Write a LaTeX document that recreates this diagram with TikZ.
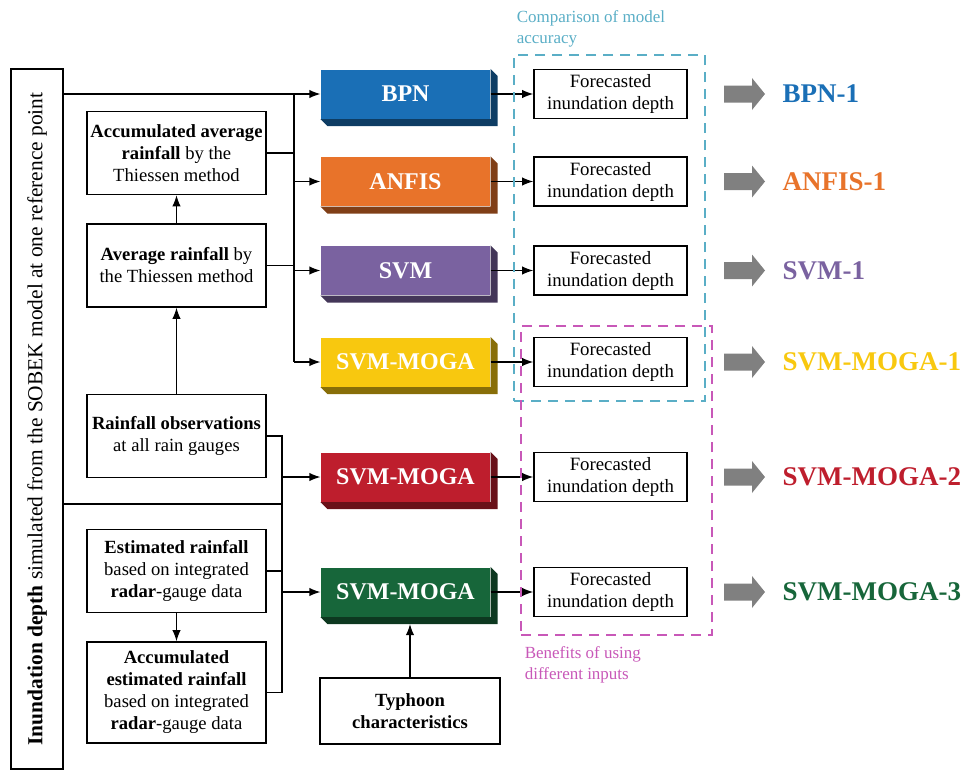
\documentclass[tikz,border=0pt]{standalone}
\usepackage{fontspec}
\setmainfont{Liberation Serif}
\usetikzlibrary{arrows.meta}

\definecolor{cbpn}{HTML}{1A6FB6}
\definecolor{canfis}{HTML}{E8732A}
\definecolor{csvm}{HTML}{7A62A0}
\definecolor{cmogaa}{HTML}{F8C80F}
\definecolor{cmogab}{HTML}{BE1E2D}
\definecolor{cmogac}{HTML}{17663A}
\definecolor{cteal}{HTML}{5AAEC6}
\definecolor{cmag}{HTML}{C858B8}
\definecolor{arrowgray}{HTML}{808080}

\begin{document}
\begin{tikzpicture}[x=0.5pt,y=-0.5pt,line width=0.6pt,
    >={Latex[length=5.5pt,width=4.2pt]},
    inbox/.style={draw,line width=0.8pt,minimum width=89.5pt,minimum height=41.5pt,
      align=center,inner sep=1pt,font=\fontsize{9.3}{11}\selectfont},
    model/.style={minimum width=84.5pt,minimum height=24.5pt,inner sep=0pt,
      text=white,font=\fontsize{12}{14}\selectfont\bfseries},
    fcbox/.style={draw,line width=0.8pt,minimum width=76.5pt,minimum height=24.5pt,
      align=center,inner sep=0pt,font=\fontsize{9.4}{11}\selectfont},
    result/.style={anchor=west,inner sep=0pt,font=\fontsize{13.5}{16}\selectfont\bfseries},
    groupbox/.style={line width=0.8pt,dash pattern=on 5pt off 3.5pt,inner sep=0pt},
    note/.style={align=left,inner sep=0pt,font=\fontsize{8.5}{10.5}\selectfont}]
  \useasboundingbox (0,0) rectangle (965,772);

  % input side
  \node[draw,line width=0.8pt,rotate=90,minimum width=350pt,minimum height=26pt,inner sep=0pt,
    font=\fontsize{10.7}{12}\selectfont] (inun) at (37,419)
    {\textbf{Inundation depth} simulated from the SOBEK model at one reference point};
  \node[inbox] (accavg) at (176.5,153) {\textbf{Accumulated average}\\\textbf{rainfall} by the\\Thiessen method};
  \node[inbox] (avg) at (176.5,265.5) {\textbf{Average rainfall} by\\the Thiessen method};
  \node[inbox] (obs) at (176.5,436) {\textbf{Rainfall observations}\\at all rain gauges};
  \node[inbox] (est) at (176.5,571) {\textbf{Estimated rainfall}\\based on integrated\\\textbf{radar}-gauge data};
  \node[inbox,minimum height=50.5pt] (accest) at (176.5,692.5)
    {\textbf{Accumulated}\\\textbf{estimated rainfall}\\based on integrated\\\textbf{radar}-gauge data};
  \node[inbox,minimum width=90pt,minimum height=33pt] (typh) at (410,711)
    {\textbf{Typhoon}\\\textbf{characteristics}};

  \draw[->] (obs) -- (avg);
  \draw[->] (avg) -- (accavg);
  \draw[->] (est) -- (accest);

  % models, outputs and results
  \foreach \nm/\yy/\col/\txt/\res in {bpn/94/cbpn/BPN/BPN-1,
      anfis/181.5/canfis/ANFIS/ANFIS-1, svm/270.5/csvm/SVM/SVM-1,
      mogaa/362/cmogaa/SVM-MOGA/SVM-MOGA-1, mogab/477/cmogab/SVM-MOGA/SVM-MOGA-2,
      mogac/592/cmogac/SVM-MOGA/SVM-MOGA-3}{
    \node[model,fill=\col] (\nm) at (405.5,\yy) {\txt};
    \fill[\col!55!black] (\nm.north east) -- ++(3.5pt,-3.5pt)
      -- ([shift={(3.5pt,-3.5pt)}]\nm.south east) -- ([shift={(3.5pt,-3.5pt)}]\nm.south west)
      -- (\nm.south west) -- (\nm.south east) -- cycle;
    \node[fcbox] (f\nm) at (610.5,\yy) {Forecasted\\inundation depth};
    \draw[->] (\nm) -- (f\nm);
    \fill[arrowgray] (724,\yy-8.5) -- (752,\yy-8.5) -- (752,\yy-16) -- (765,\yy)
      -- (752,\yy+16) -- (752,\yy+8.5) -- (724,\yy+8.5) -- cycle;
    \node[result,text=\col] (r\nm) at (782,\yy) {\res};
  }

  % upper bus
  \coordinate (busa) at (294,94);
  \draw[->] (inun.south |- bpn) -- (bpn);
  \draw (busa) -- (busa |- mogaa);
  \draw (accavg) -- (busa |- accavg);
  \draw (avg) -- (busa |- avg);
  \foreach \nm in {anfis,svm,mogaa}
    \draw[->] (busa |- \nm) -- (\nm);

  % lower bus
  \coordinate (busb) at (282,436);
  \coordinate (split) at (282,504);
  \draw (obs) -- (busb) -- (busb |- accest) -- (accest);
  \draw (inun.south |- split) -- (split);
  \draw (est) -- (busb |- est);
  \draw[->] (busb |- mogab) -- (mogab);
  \draw[->] (busb |- mogac) -- (mogac);
  \coordinate (mcbot) at ([yshift=-3.5pt]mogac.south);
  \draw[->] (typh) -- (typh |- mcbot);

  % comparison groups
  \node[groupbox,draw=cteal,minimum width=95.5pt,minimum height=173pt] (cmp) at (609.5,228) {};
  \node[groupbox,draw=cmag,minimum width=95.5pt,minimum height=154.5pt] (ben) at (616.5,480.5) {};
  \node[note,text=cteal,anchor=south west] (cmplab) at ([xshift=1.5pt,yshift=3pt]cmp.north west)
    {Comparison of model\\accuracy};
  \node[note,text=cmag,anchor=north west] (benlab) at ([xshift=2pt,yshift=-5pt]ben.south west)
    {Benefits of using\\different inputs};
\end{tikzpicture}
\end{document}
